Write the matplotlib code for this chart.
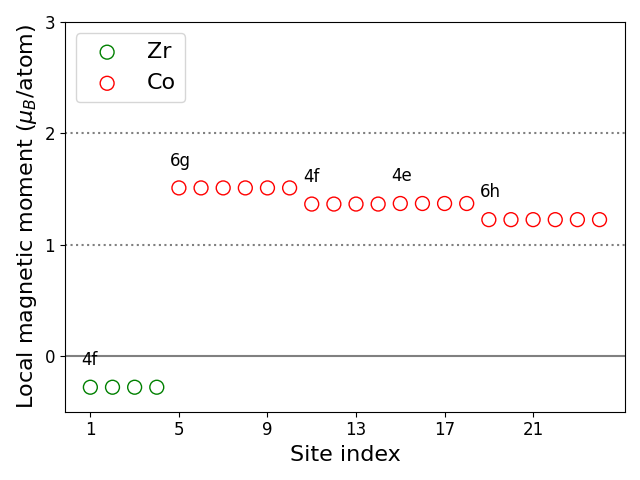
import numpy as np
import matplotlib.pyplot as plt

zr_sites = [1, 2, 3, 4]
zr_moments = [-0.28, -0.28, -0.28, -0.28]

co_sites = list(range(5, 25))
co_moments = [1.51] * 6 + [1.365] * 4 + [1.37] * 4 + [1.225] * 6

wyckoff_labels = ['4f', '6g', '4f', '4e', '6h']
wyckoff_x = [1, 5, 11, 15, 19]
wyckoff_y = [-0.28, 1.51, 1.365, 1.37, 1.225]

fig, ax = plt.subplots(figsize=(6.4, 4.8))
ax.axhline(0, color='gray', lw=1.5)
ax.axhline(1, color='gray', ls=':', lw=1.5)
ax.axhline(2, color='gray', ls=':', lw=1.5)
ax.scatter(zr_sites, zr_moments, s=100, facecolors='none', edgecolors='green', label='Zr')
ax.scatter(co_sites, co_moments, s=100, facecolors='none', edgecolors='red', label='Co')
for lab, x, y in zip(wyckoff_labels, wyckoff_x, wyckoff_y):
    ax.text(x - 0.4, y + 0.2, lab, fontsize=12)

ax.set_ylim(-0.5, 3)
ax.set_yticks([0, 1, 2, 3])
ax.set_xticks([1, 5, 9, 13, 17, 21])
ax.tick_params(labelsize=12)
ax.set_xlabel('Site index', fontsize=16)
ax.set_ylabel(r'Local magnetic moment ($\mu_B$/atom)', fontsize=16)
ax.legend(fontsize=16, loc='upper left')
fig.tight_layout()
fig.savefig('out.png', dpi=100)
